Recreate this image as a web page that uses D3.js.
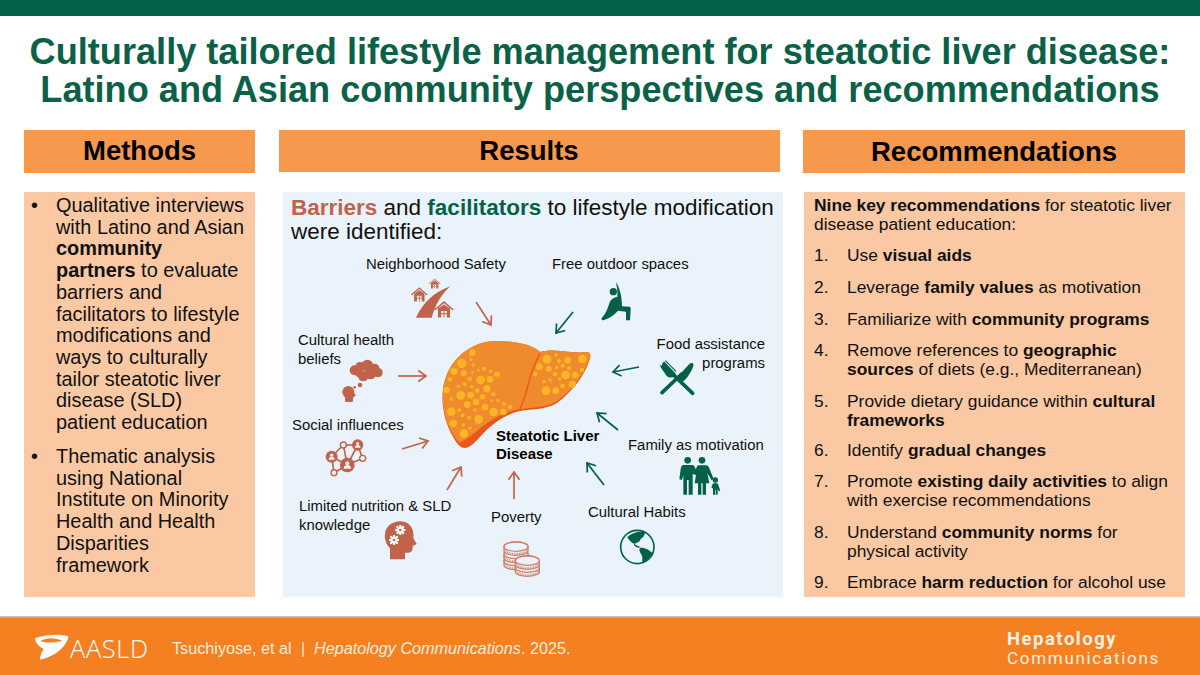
<!DOCTYPE html>
<html>
<head>
<meta charset="utf-8">
<title>Steatotic liver disease</title>
<script src="https://cdn.jsdelivr.net/npm/d3@7"></script>
<style>
  html, body { margin: 0; padding: 0; background: #fff; }
  svg { display: block; font-family: "Liberation Sans", Arial, sans-serif; }
</style>
</head>
<body>
<div id="chart"></div>
<script>
// Text of the slide. *stars* mark the bold runs
const titleLines = [
  'Culturally tailored lifestyle management for steatotic liver disease:',
  'Latino and Asian community perspectives and recommendations'
];
const sectionHeaders = ['Methods', 'Results', 'Recommendations'];
const methodsFirst = [
  'Qualitative interviews', 'with Latino and Asian', '*community*', '*partners* to evaluate',
  'barriers and', 'facilitators to lifestyle', 'modifications and', 'ways to culturally',
  'tailor steatotic liver', 'disease (SLD)', 'patient education'
];
const methodsSecond = [
  'Thematic analysis', 'using National', 'Institute on Minority', 'Health and Health',
  'Disparities', 'framework'
];
const recIntro = ['*Nine key recommendations* for steatotic liver', 'disease patient education:'];
const recommendations = [
  ['Use *visual aids*'],
  ['Leverage *family values* as motivation'],
  ['Familiarize with *community programs*'],
  ['Remove references to *geographic*', '*sources* of diets (e.g., Mediterranean)'],
  ['Provide dietary guidance within *cultural*', '*frameworks*'],
  ['Identify *gradual changes*'],
  ['Promote *existing daily activities* to align', 'with exercise recommendations'],
  ['Understand *community norms* for', 'physical activity'],
  ['Embrace *harm reduction* for alcohol use']
];
const barrierLabels = ['Neighborhood Safety', 'Cultural health|beliefs', 'Social influences', 'Limited nutrition & SLD|knowledge', 'Poverty'];
const facilitatorLabels = ['Free outdoor spaces', 'Food assistance|programs', 'Family as motivation', 'Cultural Habits'];

const liverDots = [
  [127,68,10],[95,100,14],[122,88,5],[72,124,11],[101,130,9],[130,105,5],[145,120,4],[162,116,6],[182,124,5],
  [201,133,8],[127,127,4],[60,148,7],[119,147,7],[152,150,13],[180,148,10],[85,170,5],[104,162,6],[125,170,5],
  [50,180,10],[142,182,7],[171,176,11],[92,196,13],[122,196,10],[64,207,5],[190,193,6],[158,200,8],[138,216,10],
  [112,224,10],[165,231,10],[185,212,4],[204,212,5],[222,222,6],[241,231,7],[64,245,13],[88,241,6],[135,240,5],
  [191,246,13],[220,246,10],[98,256,6],[70,280,11],[117,263,6],[146,268,13],[100,285,5],[120,295,5],[102,311,13],
  [378,75,5],[351,88,13],[387,93,6],[413,91,10],[457,87,13],[328,110,10],[356,116,9],[380,112,5],[398,107,6],
  [417,115,6],[456,120,7],[375,132,7],[407,135,13],[436,135,10],[316,133,6],[360,150,5],[342,155,5],[389,147,5],
  [398,168,7],[427,163,11],[348,182,13],[377,182,10]
];

const GREEN = '#03614a', TITLE = '#0a6147', ORANGE = '#f7994c', PEACH = '#fac9a3', PANEL = '#eaf3fb',
  FOOTER = '#f58021', BROWN = '#c0634a', LIVER = '#f08b2d', RIM = '#e9571b', FAT = '#fbb525';

const svg = d3.select('#chart').append('svg').attr('width', 1200).attr('height', 675);

// Writes one line, switching to bold between the stars
function rich(parent, x, y, str, size, fill = '#111', anchor = 'start') {
  const t = parent.append('text').attr('x', x).attr('y', y).attr('font-size', size)
    .attr('fill', fill).attr('text-anchor', anchor);
  str.split('*').forEach((part, i) => {
    if (part) t.append('tspan').attr('font-weight', i % 2 ? 700 : 400).text(part);
  });
  return t;
}

// Background blocks
const blocks = [
  [0, 0, 1200, 16, GREEN],
  [24, 130, 231, 43, ORANGE], [279, 130, 501, 42, ORANGE], [803, 130, 382, 43, ORANGE],
  [24, 192, 231, 405, PEACH], [283, 192, 500, 405, PANEL], [804, 192, 381, 405, PEACH],
  [0, 617, 1200, 58, FOOTER]
];
svg.selectAll('rect.block').data(blocks).enter().append('rect').attr('class', 'block')
  .attr('x', d => d[0]).attr('y', d => d[1]).attr('width', d => d[2]).attr('height', d => d[3])
  .attr('fill', d => d[4]);
svg.append('rect').attr('x', 0).attr('y', 616).attr('width', 1200).attr('height', 1.5).attr('fill', '#c9c0b8');

// Title and headers
titleLines.forEach((l, i) => rich(svg, 600, [64, 102][i], '*' + l + '*', 36.15, TITLE, 'middle'));
const headerX = [139.5, 529, 994], headerY = [160, 160, 161];
sectionHeaders.forEach((h, i) => rich(svg, headerX[i], headerY[i], '*' + h + '*', 27.5, '#000', 'middle'));

// Methods column
const methodsY = d3.scaleLinear().domain([0, 10]).range([212, 429]);
rich(svg, 31, 212, '•', 19.9);
methodsFirst.forEach((l, i) => rich(svg, 56, methodsY(i), l, 19.9));
rich(svg, 31, 463, '•', 19.9);
methodsSecond.forEach((l, i) => rich(svg, 56, 463 + i * 21.7, l, 19.9));

// Recommendations column
recIntro.forEach((l, i) => rich(svg, 814, [211, 230][i], l, 17.4));
const recY = [261, 293, 325, 356, 407, 456, 487, 538, 588];
recommendations.forEach((lines, i) => {
  rich(svg, 814, recY[i], (i + 1) + '.', 17.4);
  lines.forEach((l, j) => rich(svg, 847, recY[i] + j * 19, l, 17.4));
});

// Results panel heading
rich(svg, 291, 215, '', 22.5).call(t => {
  [['Barriers', BROWN, 700], [' and ', '#111', 400], ['facilitators', GREEN, 700], [' to lifestyle modification', '#111', 400]]
    .forEach(s => t.append('tspan').attr('fill', s[1]).attr('font-weight', s[2]).text(s[0]));
});
rich(svg, 291, 239, 'were identified:', 22.5);

// Factor labels
const barrierPos = [[366, 269], [298, 345], [292, 430], [299, 511], [491, 522]];
const facilitatorPos = [[552, 269], [765, 349], [628, 450], [588, 517]];
function drawLabel(str, pos, anchor) {
  str.split('|').forEach((l, j) => rich(svg, pos[0], pos[1] + j * 18.6, l, 14.9, '#111', anchor));
}
barrierLabels.forEach((s, i) => drawLabel(s, barrierPos[i], 'start'));
facilitatorLabels.forEach((s, i) => drawLabel(s, facilitatorPos[i], i === 1 ? 'end' : 'start'));

// Arrows pointing at the liver
const line = d3.line();
function arrow(a, b, color) {
  const ang = Math.atan2(b[1] - a[1], b[0] - a[0]), h = 9.5;
  const side = s => [b[0] - h * Math.cos(ang + s * 0.62), b[1] - h * Math.sin(ang + s * 0.62)];
  svg.append('path').attr('d', line([a, b])).attr('stroke', color).attr('stroke-width', 1.7).attr('fill', 'none');
  svg.append('path').attr('d', line([side(1), b, side(-1)])).attr('stroke', color).attr('stroke-width', 1.7).attr('fill', 'none');
}
[[[476, 302], [491, 325]], [[398, 376], [426, 376]], [[402, 449], [428, 441]], [[447, 490], [461, 467]], [[514, 499], [514, 472]]]
  .forEach(p => arrow(p[0], p[1], BROWN));
[[[573, 312], [556, 333]], [[639, 367], [613, 372]], [[618, 430], [597, 413]], [[604, 485], [587, 463]]]
  .forEach(p => arrow(p[0], p[1], GREEN));

// Artwork is drawn in the 3x crop coordinates it was read from
const crop = (x, y) => svg.append('g').attr('transform', `translate(${x},${y}) scale(${1 / 3})`);

// Liver
const liver = crop(430, 330);
liver.append('path').attr('fill', RIM)
  .attr('d', 'M200,33 C260,33 310,45 330,66 C345,62 370,60 400,64 C430,68 455,68 470,66 C482,66 484,78 478,92 C462,140 425,185 380,220 C345,240 300,238 275,242 C230,250 190,280 165,305 C145,325 125,352 105,354 C90,355 80,340 70,322 C48,285 36,240 38,195 C40,130 75,80 120,55 C145,40 170,33 200,33 Z');
liver.append('path').attr('fill', LIVER)
  .attr('d', 'M200,33 C260,33 310,45 330,66 C345,62 370,60 400,64 C430,68 455,68 470,66 C482,66 483,78 477,90 C460,138 422,184 378,216 C342,234 300,232 268,238 C225,244 185,268 150,295 C130,312 110,330 88,338 C78,330 62,305 52,280 C42,250 36,222 38,195 C40,130 75,80 120,55 C145,40 170,33 200,33 Z');
liver.append('path').attr('fill', 'none').attr('stroke', RIM).attr('stroke-width', 4)
  .attr('d', 'M330,70 C320,90 305,120 298,150 C290,185 280,215 270,238');
liver.selectAll('circle').data(liverDots).enter().append('circle')
  .attr('cx', d => d[0]).attr('cy', d => d[1]).attr('r', d => d[2]).attr('fill', FAT);
rich(svg, 496, 441, '*Steatotic Liver*', 15, '#000');
rich(svg, 496, 459, '*Disease*', 15, '#000');

// Neighborhood safety: road and houses
const hood = crop(280, 190);
hood.append('path').attr('fill', BROWN).attr('d', 'M408,383 C430,335 465,305 511,289 C485,312 465,345 455,383 Z');
function house(g, x, y, s) {
  g.append('path').attr('fill', 'none').attr('stroke', BROWN).attr('stroke-width', s * 0.16)
    .attr('d', line([[x - s, y], [x, y - s * 0.85], [x + s, y]]));
  g.append('path').attr('fill', BROWN).attr('fill-rule', 'evenodd')
    .attr('d', `M${x - s * 0.65},${y - s * 0.15} L${x},${y - s * 0.6} L${x + s * 0.65},${y - s * 0.15} L${x + s * 0.65},${y + s * 0.8} L${x - s * 0.65},${y + s * 0.8} Z
      M${x - s * 0.3},${y + s * 0.1} h${s * 0.25} v${s * 0.25} h-${s * 0.25} Z M${x + s * 0.05},${y + s * 0.1} h${s * 0.25} v${s * 0.25} h-${s * 0.25} Z
      M${x - s * 0.3},${y + s * 0.45} h${s * 0.25} v${s * 0.35} h-${s * 0.25} Z M${x + s * 0.05},${y + s * 0.45} h${s * 0.25} v${s * 0.35} h-${s * 0.25} Z`);
}
house(hood, 418, 315, 24);
house(hood, 464, 282, 17);
house(hood, 492, 360, 28);

// Cultural health beliefs: thought cloud over a head
const cloud = crop(280, 190);
[[224, 541, 15], [240, 530, 14], [262, 527, 18], [284, 535, 14], [294, 548, 14], [272, 552, 16], [250, 558, 16], [238, 550, 12],
 [240, 585, 7], [224, 592, 4], [205, 606, 18]].forEach(c => {
  cloud.append('circle').attr('cx', c[0]).attr('cy', c[1]).attr('r', c[2]).attr('fill', BROWN);
});
cloud.append('path').attr('fill', BROWN).attr('d', 'M194,615 L222,608 L228,616 L220,622 L218,636 L196,636 Z');

// Social influences: network of people
const net = crop(280, 400);
const netNodes = [[155, 170, 18], [190, 135, 11], [233, 135, 17], [248, 175, 11], [202, 195, 22], [162, 218, 11]];
[[0, 1], [1, 2], [2, 3], [3, 4], [4, 5], [0, 5], [0, 4], [1, 4], [2, 4]].forEach(e => {
  net.append('path').attr('stroke', BROWN).attr('stroke-width', 5)
    .attr('d', line([netNodes[e[0]], netNodes[e[1]]].map(n => [n[0], n[1]])));
});
netNodes.forEach(n => {
  net.append('circle').attr('cx', n[0]).attr('cy', n[1]).attr('r', n[2]).attr('fill', BROWN);
  if (n[2] > 15) {
    // big nodes: pale person on a solid disc
    net.append('circle').attr('cx', n[0]).attr('cy', n[1] - n[2] * 0.25).attr('r', n[2] * 0.27).attr('fill', PANEL);
    net.append('path').attr('fill', PANEL)
      .attr('d', `M${n[0] - n[2] * 0.5},${n[1] + n[2] * 0.5} a${n[2] * 0.5},${n[2] * 0.5} 0 0 1 ${n[2]},0 Z`);
  } else {
    net.append('circle').attr('cx', n[0]).attr('cy', n[1]).attr('r', n[2] * 0.62).attr('fill', PANEL);
  }
});

// Limited knowledge: head with gears
const head = crop(280, 400);
head.append('path').attr('fill', BROWN)
  .attr('d', 'M330,478 L330,445 C305,420 308,368 358,364 C392,362 404,392 400,414 L410,432 L398,438 C400,458 388,460 375,458 L375,478 Z');
function gear(g, x, y, r) {
  d3.range(8).forEach(k => {
    g.append('rect').attr('x', x - r * 0.2).attr('y', y - r * 1.15).attr('width', r * 0.4).attr('height', r * 2.3)
      .attr('fill', '#fff').attr('transform', `rotate(${k * 45} ${x} ${y})`);
  });
  g.append('circle').attr('cx', x).attr('cy', y).attr('r', r * 0.58).attr('fill', 'none').attr('stroke', '#fff').attr('stroke-width', r * 0.42);
  g.append('circle').attr('cx', x).attr('cy', y).attr('r', r * 0.3).attr('fill', BROWN);
}
gear(head, 361, 390, 13);
gear(head, 342, 420, 13);

// Poverty: stacked coins
const coins = crop(280, 400);
[[708, 483], [708, 462], [708, 440], [742, 503], [742, 482]].forEach(c => {
  coins.append('path').attr('fill', PANEL).attr('stroke', '#d0806a').attr('stroke-width', 4)
    .attr('d', `M${c[0] - 36},${c[1]} v12 a36,14 0 0 0 72,0 v-12 a36,14 0 0 0 -72,0 Z`);
  coins.append('path').attr('fill', 'none').attr('stroke', '#d0806a').attr('stroke-width', 7).attr('stroke-dasharray', '2 3')
    .attr('d', `M${c[0] - 32},${c[1] + 9} a32,13 0 0 0 64,0`);
  coins.append('ellipse').attr('cx', c[0]).attr('cy', c[1]).attr('rx', 36).attr('ry', 14)
    .attr('fill', PANEL).attr('stroke', '#d0806a').attr('stroke-width', 4);
});

// Free outdoor spaces: stretching figure
const runner = crop(530, 190);
runner.append('circle').attr('cx', 250).attr('cy', 305).attr('r', 11).attr('fill', GREEN);
runner.append('path').attr('fill', GREEN)
  .attr('d', 'M258,276 C272,298 276,328 276,349 L298,350 C302,350 302,354 302,358 L300,391 L288,391 L288,365 L264,362 C252,376 236,386 220,391 C214,391 213,384 218,380 C228,372 234,350 240,335 C244,326 252,322 262,320 C264,304 260,290 258,276 Z');

// Food assistance: fork and knife
const food = crop(530, 190);
food.append('path').attr('stroke', GREEN).attr('stroke-width', 11).attr('stroke-linecap', 'round')
  .attr('d', 'M396,608 L455,552');
food.append('path').attr('fill', GREEN).attr('d', 'M440,563 L478,522 C486,516 492,520 490,528 C482,550 470,568 454,578 Z');
food.append('path').attr('stroke', GREEN).attr('stroke-width', 11).attr('stroke-linecap', 'round')
  .attr('d', 'M488,610 L432,556');
food.append('path').attr('fill', GREEN).attr('d', 'M392,532 L402,514 L438,552 C432,564 420,566 410,558 Z');
[[390, 526, 425, 556], [398, 519, 432, 550], [406, 512, 438, 544]].forEach(t => {
  food.append('path').attr('stroke', GREEN).attr('stroke-width', 3.5).attr('d', line([[t[0], t[1]], [t[2], t[3]]]));
});

// Family as motivation
const family = crop(530, 400);
[[473, 181, 10], [516, 181, 10], [556, 240, 8]].forEach(c => {
  family.append('circle').attr('cx', c[0]).attr('cy', c[1]).attr('r', c[2]).attr('fill', GREEN);
});
family.append('path').attr('fill', GREEN)
  .attr('d', 'M460,195 L486,195 C492,195 495,200 497,208 L503,196 L528,196 C534,196 537,202 540,210 L551,237 L545,241 L532,220 L538,250 L528,250 L528,284 L518,284 L518,250 L514,250 L514,284 L504,284 L504,250 L494,250 L498,225 L488,222 L488,284 L476,284 L476,240 L471,240 L471,284 L460,284 L460,225 L456,240 L448,238 L452,207 C453,200 456,195 460,195 Z');
family.append('path').attr('fill', GREEN)
  .attr('d', 'M549,250 L563,250 L571,272 L566,274 L563,266 L563,284 L557,284 L557,270 L555,270 L555,284 L549,284 L549,266 L544,262 Z');

// Cultural habits: globe
const globe = crop(530, 400);
globe.append('circle').attr('cx', 322).attr('cy', 441).attr('r', 50).attr('fill', PANEL).attr('stroke', GREEN).attr('stroke-width', 5);
globe.append('path').attr('fill', GREEN)
  .attr('d', 'M292,412 C305,397 330,392 348,397 C340,402 346,408 336,414 C330,416 332,424 324,426 C318,432 312,428 312,436 C318,444 328,444 332,442 C326,438 318,436 314,432 C306,430 296,420 292,412 Z');
globe.append('path').attr('fill', GREEN)
  .attr('d', 'M332,443 C345,442 358,450 366,458 C368,464 358,470 354,478 C350,484 344,488 337,490 C336,480 340,472 332,460 C328,452 326,446 332,443 Z');

// Footer
const logo = crop(25, 625);
logo.append('path').attr('fill', '#fff')
  .attr('d', 'M30,40 C60,28 105,26 131,34 C126,62 92,96 45,104 C46,90 50,80 56,72 C40,64 30,52 30,40 Z');
logo.append('path').attr('fill', FOOTER)
  .attr('d', 'M46,48 C66,36 92,38 112,47 C92,53 66,55 46,48 Z');
svg.append('text').attr('x', 70).attr('y', 658).attr('font-family', '"Open Sans"').attr('font-weight', 300)
  .attr('font-size', 25.5).attr('letter-spacing', 0.6).attr('fill', '#fff').text('AASLD');
const citeY = 654, citeFill = '#fdeedd';
rich(svg, 172, citeY, 'Tsuchiyose, et al', 16.2, citeFill);
rich(svg, 301, citeY, '|', 16.2, citeFill);
const cite = svg.append('text').attr('x', 314).attr('y', citeY).attr('font-size', 16.2).attr('fill', citeFill);
cite.append('tspan').attr('font-style', 'italic').text('Hepatology Communications');
cite.append('tspan').text('. 2025.');
svg.append('text').attr('x', 1007).attr('y', 645).attr('font-family', 'Roboto').attr('font-weight', 700)
  .attr('font-size', 18.5).attr('letter-spacing', 1.5).attr('fill', '#fdf0e2').text('Hepatology');
svg.append('text').attr('x', 1007).attr('y', 664).attr('font-family', 'Roboto').attr('font-weight', 400)
  .attr('font-size', 17).attr('letter-spacing', 1.7).attr('fill', '#fdf0e2').text('Communications');
</script>
</body>
</html>
